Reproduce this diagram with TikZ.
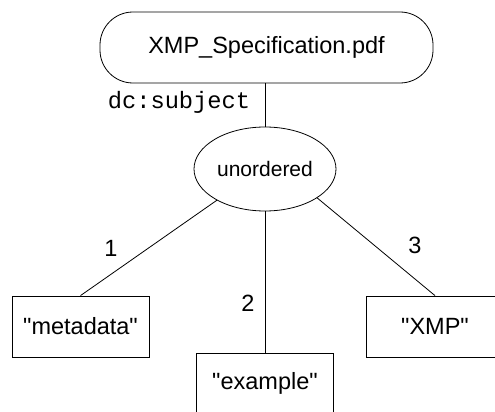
\documentclass[tikz,border=0pt]{standalone}
\usepackage{fontspec}
\setmainfont{Liberation Sans}
\setmonofont{Liberation Mono}
\usetikzlibrary{shapes.geometric}
\tikzset{
  txt/.style={font=\fontsize{23.5}{28}\selectfont},
  smalltxt/.style={font=\fontsize{21}{25}\selectfont},
  valbox/.style={draw, line width=0.8pt, txt, minimum width=137pt, minimum height=61pt, inner sep=0pt},
  conn/.style={draw, line width=0.8pt},
}
\newcommand{\qq}{\textquotedbl}
\begin{document}
\begin{tikzpicture}[x=1pt,y=-1pt]
\useasboundingbox (0,0) rectangle (495,412);
\clip (0,0) rectangle (495,412);
\node[draw, line width=0.8pt, txt, rounded corners=33pt, minimum width=333pt, minimum height=71pt, inner sep=0pt] (top) at (266.5,47.5) {XMP\_Specification.pdf};
\node[draw, line width=0.8pt, ellipse, smalltxt, minimum width=142pt, minimum height=84pt, inner sep=0pt] (ell) at (265,169) {unordered};
\node[valbox] (meta) at (80.5,326.5) {\qq metadata\qq};
\node[valbox] (xmp) at (435,326.5) {\qq XMP\qq};
\node[valbox] (ex) at (265,383.5) {\qq example\qq};
\node[font=\ttfamily\fontsize{23.7}{28}\selectfont, inner sep=0pt] (pred) at (179,102) {dc:subject};
\node[txt, inner sep=0pt] (l1) at (111,248) {1};
\node[txt, inner sep=0pt] (l2) at (248,303) {2};
\node[txt, inner sep=0pt] (l3) at (415,245) {3};
\draw[conn] (ell.north) -- (ell.north |- top.south);
\draw[conn] (ell.213) -- (meta.north);
\draw[conn] (ell.south) -- (ex.north);
\draw[conn] (ell.331) -- (xmp.north);
\end{tikzpicture}
\end{document}
